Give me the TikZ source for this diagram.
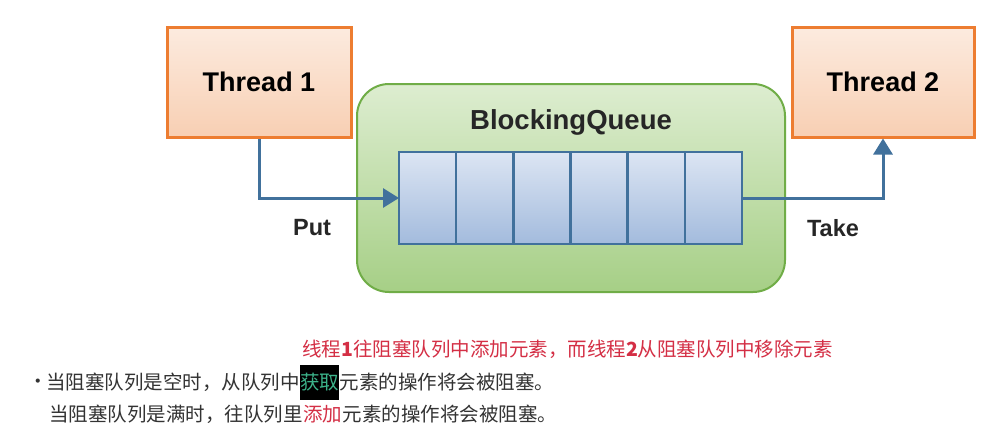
\documentclass[tikz,border=0pt]{standalone}
\usepackage{fontspec}
\setmainfont{Liberation Sans}
\newfontfamily\cjk{Noto Sans CJK SC}
\usetikzlibrary{arrows.meta}
\definecolor{orangeline}{HTML}{ED7D31}
\definecolor{orangetop}{HTML}{FCEBDF}
\definecolor{orangebot}{HTML}{F8CFB3}
\definecolor{greenline}{HTML}{70AD47}
\definecolor{greentop}{HTML}{DDEDD0}
\definecolor{greenbot}{HTML}{A6CF86}
\definecolor{blueline}{HTML}{41719C}
\definecolor{bluetop}{HTML}{DCE5F3}
\definecolor{bluebot}{HTML}{A3BBDD}
\definecolor{redtxt}{HTML}{D42F45}
\definecolor{graytxt}{HTML}{333333}
\definecolor{tealtxt}{HTML}{3CB38A}
\tikzset{
  threadbox/.style={draw=orangeline, line width=3pt, top color=orangetop, bottom color=orangebot,
    minimum height=110pt, inner sep=0pt, font=\fontsize{27}{30}\selectfont\bfseries},
  queuebox/.style={draw=greenline, line width=2pt, top color=greentop, bottom color=greenbot,
    rounded corners=32pt, minimum width=428pt, minimum height=208pt, inner sep=0pt},
  cell/.style={draw=blueline, line width=2.6pt, top color=bluetop, bottom color=bluebot,
    minimum width=57.17pt, minimum height=92pt, inner sep=0pt, outer sep=0pt, anchor=west},
  flow/.style={draw=blueline, line width=3pt, -{Triangle[length=16pt,width=19pt]}},
  lbl/.style={font=\fontsize{23.5}{26}\selectfont\bfseries, text=black!85},
  cjktxt/.style={font=\cjk\fontsize{19.5}{22}\selectfont, inner sep=0pt, anchor=west, text=graytxt}
}
\begin{document}
\begin{tikzpicture}[x=1pt,y=-1pt]
\useasboundingbox[fill=white] (0,0) rectangle (984,439);
% boxes
\node[threadbox, minimum width=184pt] (t1) at (259,82) {Thread 1};
\node[threadbox, minimum width=182pt] (t2) at (883,82) {Thread 2};
\node[queuebox] (bq) at (571,188) {};
\node[font=\fontsize{27.5}{30}\selectfont\bfseries, text=black!85] (bqt) at (571,122) {BlockingQueue};
% cells
\node[cell] (c1) at (399,198) {};
\node[cell] (c2) at (c1.east) {};
\node[cell] (c3) at (c2.east) {};
\node[cell] (c4) at (c3.east) {};
\node[cell] (c5) at (c4.east) {};
\node[cell] (c6) at (c5.east) {};
% arrows
\draw[flow] (t1.south) |- (c1.west);
\draw[flow] (c6.east) -| (t2.south);
\node[lbl] (put) at (312,228) {Put};
\node[lbl] (take) at (833,228) {Take};
% texts
\node[cjktxt, text=redtxt] (r) at (302,349) {线程{\bfseries 1}往阻塞队列中添加元素，而线程{\bfseries 2}从阻塞队列中移除元素};
\node[cjktxt, anchor=center] (dot) at (38,384) {·};
\node[cjktxt] (l2a) at (46,382) {当阻塞队列是空时，从队列中};
\node[cjktxt, fill=black, minimum height=35pt, text=tealtxt] (l2b) at (l2a.east) {获取};
\node[cjktxt] (l2c) at (l2b.east) {元素的操作将会被阻塞。};
\node[cjktxt] (l3a) at (49,414) {当阻塞队列是满时，往队列里};
\node[cjktxt, text=redtxt] (l3b) at (l3a.east) {添加};
\node[cjktxt] (l3c) at (l3b.east) {元素的操作将会被阻塞。};
\end{tikzpicture}
\end{document}
